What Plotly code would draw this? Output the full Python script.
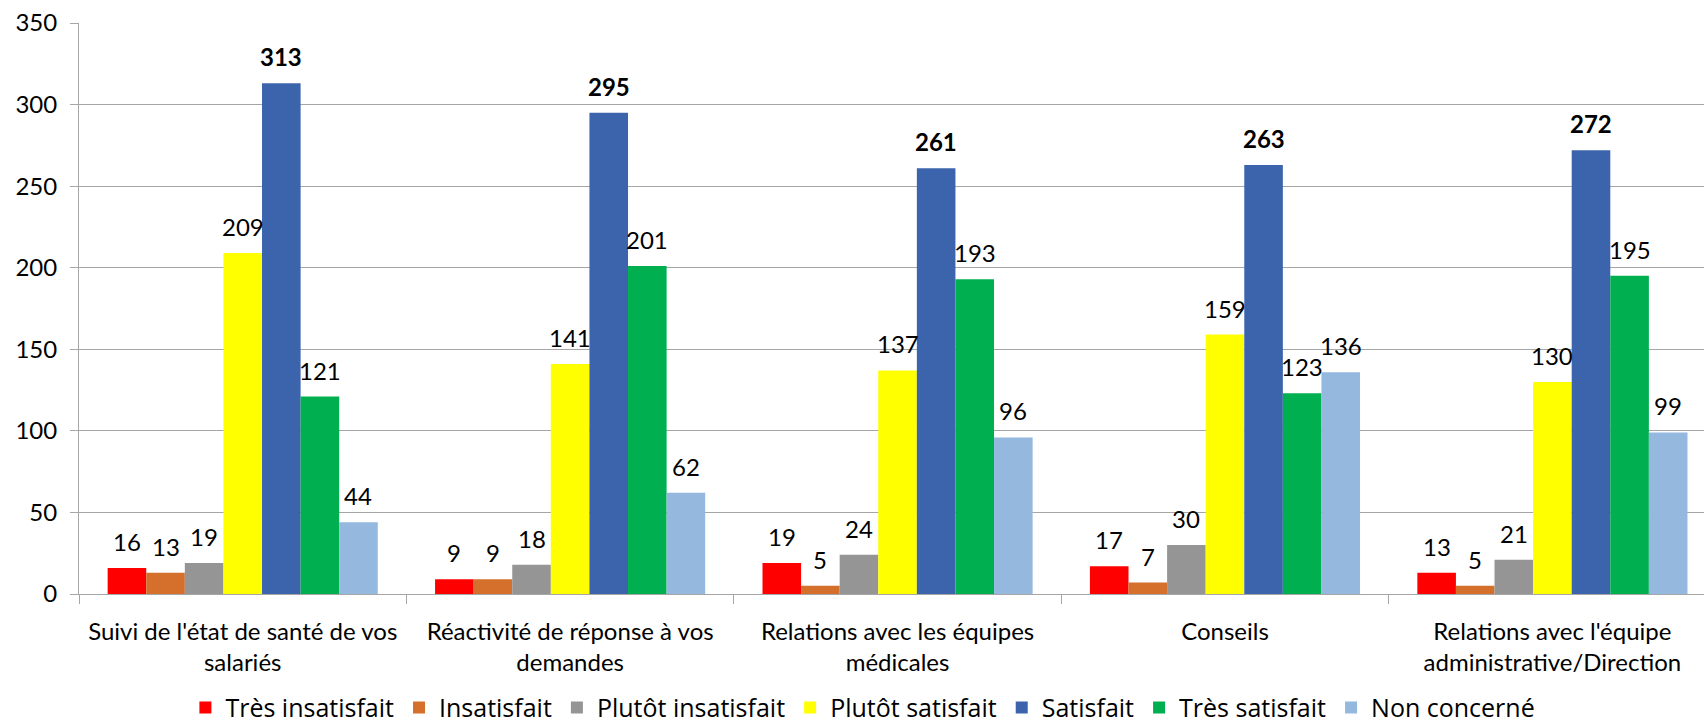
import plotly.graph_objects as go

categories = [
    "Suivi de l'état de santé de vos<br>salariés",
    "Réactivité de réponse à vos<br>demandes",
    "Relations avec les équipes<br>médicales",
    "Conseils",
    "Relations avec l'équipe<br>administrative/Direction",
]
series_names = ["Très insatisfait", "Insatisfait", "Plutôt insatisfait",
                "Plutôt satisfait", "Satisfait", "Très satisfait", "Non concerné"]
tres_insatisfait = [16, 9, 19, 17, 13]
insatisfait = [13, 9, 5, 7, 5]
plutot_insatisfait = [19, 18, 24, 30, 21]
plutot_satisfait = [209, 141, 137, 159, 130]
satisfait = [313, 295, 261, 263, 272]
tres_satisfait = [121, 201, 193, 123, 195]
non_concerne = [44, 62, 96, 136, 99]
series_values = [tres_insatisfait, insatisfait, plutot_insatisfait,
                 plutot_satisfait, satisfait, tres_satisfait, non_concerne]
colors = ["#FF0000", "#D4702B", "#959595", "#FFFF00", "#3C64AD", "#00B050", "#95B8DF"]
bold_series = {"Satisfait"}
y_ticks = [0, 50, 100, 150, 200, 250, 300, 350]

FONT = "Lato, Roboto, sans-serif"
LEG_FONT = "Open Sans, Lato, sans-serif"
FS = 24
bargap = 0.175
n = len(series_names)

fig = go.Figure()
xi = list(range(len(categories)))
for name, vals, col in zip(series_names, series_values, colors):
    fig.add_trace(go.Bar(x=xi, y=vals, name=name, marker_color=col,
                         marker_line_width=0))

ann = []
bw = (1 - bargap) / n
for j, (name, vals) in enumerate(zip(series_names, series_values)):
    for i, v in enumerate(vals):
        txt = f"<b>{v}</b>" if name in bold_series else str(v)
        ann.append(dict(x=i + (j - (n - 1) / 2) * bw, y=v, xref="x", yref="y",
                        text=txt, showarrow=False, yanchor="bottom",
                        yshift=10, font=dict(family=FONT, size=FS, color="black")))

fig.update_layout(
    width=1704, height=723,
    margin=dict(l=79, r=0, t=23, b=129, autoexpand=False),
    paper_bgcolor="white", plot_bgcolor="white",
    barmode="group", bargap=bargap, bargroupgap=0,
    font=dict(family=FONT, size=FS, color="black"),
    annotations=ann,
    legend=dict(orientation="h", x=0.4824, xanchor="center", y=-0.199, yanchor="middle",
                font=dict(family=LEG_FONT, size=25, color="black"), itemclick=False,
                tracegroupgap=0, itemwidth=30),
    showlegend=True,
)
fig.update_xaxes(
    tickmode="array", tickvals=xi, ticktext=categories,
    range=[-0.5, len(categories) - 0.5 - 0.037],
    showline=True, linecolor="#A6A6A6", linewidth=1,
    ticks="", showgrid=False, zeroline=False, automargin=False,
    tickfont=dict(family=FONT, size=FS, color="black"),
    ticklabelstandoff=16,
)
fig.update_xaxes(minor=dict(tickmode="array",
                            tickvals=[k - 0.5 for k in range(len(categories) + 1)],
                            ticks="outside", ticklen=9, tickcolor="#A6A6A6", showgrid=False))
fig.update_yaxes(
    range=[0, 350], tickvals=y_ticks, showgrid=True, gridcolor="#A6A6A6", gridwidth=1,
    showline=True, linecolor="#A6A6A6", linewidth=1,
    ticks="outside", ticklen=8, tickcolor="#A6A6A6", automargin=False,
    zeroline=False, tickfont=dict(family=FONT, size=FS, color="black"),
    ticklabelstandoff=8,
)
fig.write_html("out.html", config={"displayModeBar": False},
               post_script="document.body.style.margin='0';document.body.style.overflow='hidden';")
